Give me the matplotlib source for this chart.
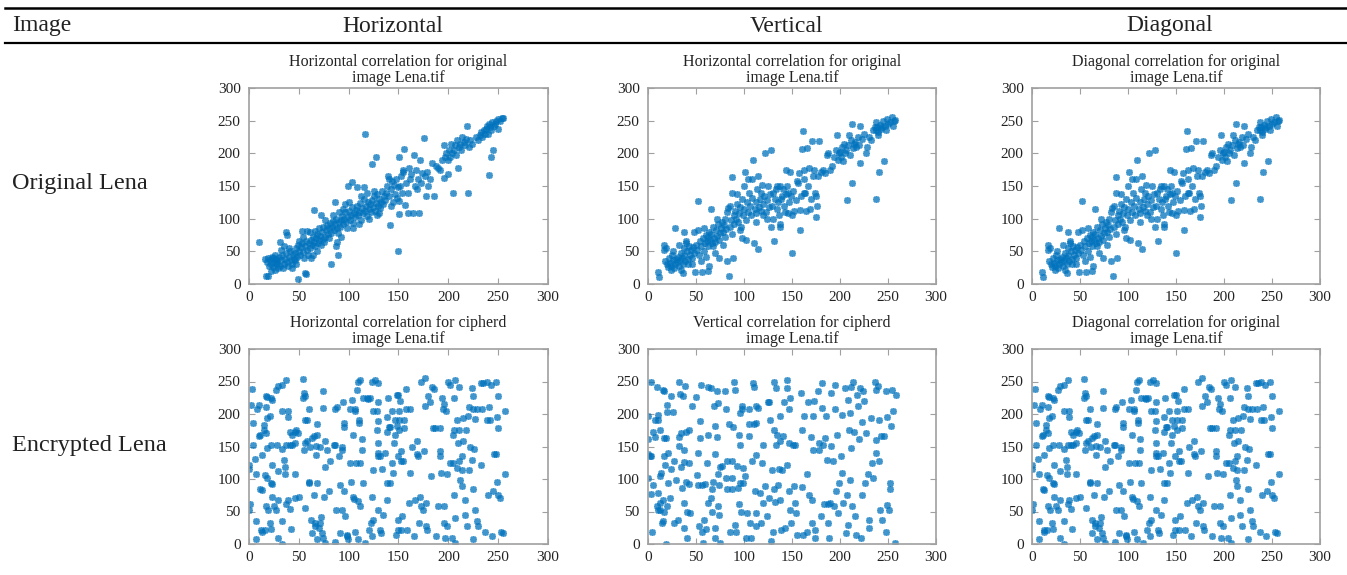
import matplotlib
matplotlib.use('Agg')
import matplotlib.pyplot as plt
import numpy as np
from matplotlib.lines import Line2D

plt.rcParams['font.family'] = ['Liberation Serif', 'DejaVu Serif']

# column / row headings of the table
col_header = ['Image', 'Horizontal', 'Vertical', 'Diagonal']
row_labels = ['Original Lena', 'Encrypted Lena']

panel_titles = [
    ['Horizontal correlation for original\nimage Lena.tif',
     'Horizontal correlation for original\nimage Lena.tif',
     'Diagonal correlation for original\nimage Lena.tif'],
    ['Horizontal correlation for cipherd\nimage Lena.tif',
     'Vertical correlation for cipherd\nimage Lena.tif',
     'Diagonal correlation for original\nimage Lena.tif'],
]

axis_ticks = [0, 50, 100, 150, 200, 250, 300]

# adjacent pixel pairs, original image, horizontal
orig_horiz = [
    (16, 38), (18, 33), (19, 40), (20, 28), (21, 36), (22, 31), (23, 42), (24, 26), (25, 34), (26, 22),
    (27, 38), (28, 30), (29, 25), (30, 41), (17, 12), (19, 13), (22, 20), (26, 45), (28, 35), (24, 40),
    (31, 28), (32, 36), (33, 44), (34, 24), (35, 31), (36, 39), (37, 47), (38, 33), (39, 27), (40, 42),
    (41, 50), (42, 36), (43, 30), (44, 46), (45, 39), (32, 52), (35, 58), (40, 55), (37, 79), (38, 75),
    (31, 64), (10, 64), (27, 32), (43, 24), (46, 48), (47, 55), (48, 42), (49, 60), (50, 51), (51, 45),
    (52, 57), (53, 63), (54, 49), (55, 40), (56, 58), (57, 66), (58, 52), (59, 45), (60, 62), (49, 8),
    (56, 17), (57, 16), (53, 81), (58, 81), (46, 36), (50, 66), (54, 72), (47, 30), (61, 55), (62, 68),
    (63, 60), (64, 72), (65, 64), (66, 58), (67, 70), (68, 76), (69, 62), (70, 67), (71, 74), (72, 60),
    (73, 80), (74, 69), (75, 64), (66, 81), (65, 114), (72, 105), (62, 40), (64, 45), (68, 50), (70, 86),
    (74, 88), (61, 80), (76, 72), (77, 82), (78, 90), (79, 76), (80, 85), (81, 94), (82, 78), (83, 88),
    (84, 96), (85, 83), (86, 92), (87, 100), (88, 86), (89, 78), (90, 95), (82, 31), (89, 45), (86, 125),
    (84, 105), (88, 65), (76, 98), (80, 70), (87, 58), (90, 110), (91, 88), (92, 98), (93, 104), (94, 92),
    (95, 100), (96, 110), (97, 95), (98, 86), (99, 103), (100, 112), (101, 98), (102, 106), (103, 118), (104, 94),
    (105, 108), (99, 150), (103, 156), (92, 72), (96, 122), (100, 125), (94, 115), (104, 85), (106, 102), (107, 114),
    (108, 120), (109, 105), (110, 110), (111, 124), (112, 98), (113, 116), (114, 108), (115, 130), (116, 112), (117, 120),
    (118, 104), (119, 126), (120, 115), (108, 148), (115, 148), (116, 229), (112, 135), (118, 140), (110, 92), (120, 100),
    (121, 122), (122, 110), (123, 128), (124, 118), (125, 134), (126, 112), (127, 124), (128, 138), (129, 120), (130, 130),
    (131, 116), (132, 126), (133, 142), (134, 122), (135, 135), (123, 184), (127, 194), (125, 142), (130, 108), (128, 106),
    (136, 128), (137, 140), (138, 150), (139, 166), (140, 135), (141, 90), (142, 145), (143, 158), (144, 125), (145, 152),
    (146, 138), (147, 160), (148, 132), (149, 148), (150, 51), (151, 127), (151, 107), (151, 195), (142, 120), (140, 160),
    (152, 150), (153, 165), (154, 140), (155, 172), (156, 206), (157, 121), (158, 155), (160, 109), (161, 178), (162, 160),
    (163, 168), (165, 108), (166, 198), (167, 150), (168, 175), (169, 145), (170, 160), (171, 108), (155, 175), (160, 140),
    (172, 190), (173, 155), (174, 170), (176, 223), (177, 165), (178, 134), (179, 172), (180, 150), (182, 160), (184, 185),
    (186, 134), (188, 180), (190, 178), (192, 175), (194, 190), (196, 163), (196, 213), (197, 195), (198, 200), (200, 190),
    (201, 205), (202, 195), (203, 215), (205, 139), (206, 205), (207, 212), (208, 198), (209, 220), (210, 178), (211, 210),
    (212, 215), (213, 205), (214, 225), (200, 168), (204, 200), (216, 218), (217, 212), (218, 222), (219, 242), (220, 139),
    (221, 210), (222, 220), (224, 215), (228, 225), (230, 220), (232, 228), (233, 232), (234, 225), (236, 235), (238, 238),
    (239, 242), (240, 230), (241, 167), (241, 245), (242, 240), (243, 194), (244, 248), (245, 205), (246, 242), (247, 245),
    (248, 250), (250, 238), (250, 252), (252, 250), (254, 254), (255, 254), (243, 236), (237, 230),
]

# original image, vertical pairs (the diagonal panel shows the same cloud)
orig_vert = [
    (10, 18), (11, 10), (17, 60), (17, 52), (18, 35), (20, 30), (21, 26), (22, 40), (23, 32), (24, 28),
    (25, 45), (26, 36), (27, 24), (28, 85), (28, 30), (29, 38), (30, 33), (19, 55), (26, 50), (24, 22),
    (31, 42), (32, 28), (33, 36), (34, 48), (35, 40), (36, 30), (37, 55), (38, 44), (39, 35), (40, 62),
    (41, 50), (42, 38), (43, 58), (44, 45), (45, 52), (32, 60), (36, 17), (38, 80), (40, 66), (34, 22),
    (42, 30), (46, 40), (47, 56), (48, 48), (49, 18), (50, 60), (51, 52), (52, 127), (53, 44), (54, 66),
    (55, 58), (56, 18), (57, 70), (58, 50), (59, 62), (60, 75), (48, 80), (52, 82), (55, 35), (58, 85),
    (46, 30), (60, 42), (61, 66), (62, 72), (63, 58), (64, 80), (65, 68), (66, 76), (67, 62), (68, 88),
    (69, 70), (70, 64), (71, 82), (72, 74), (73, 92), (74, 68), (75, 78), (64, 28), (66, 115), (70, 48),
    (72, 100), (62, 20), (68, 58), (74, 40), (76, 86), (77, 95), (78, 80), (79, 90), (80, 100), (81, 84),
    (82, 110), (83, 117), (84, 12), (85, 88), (86, 98), (87, 164), (88, 76), (89, 40), (90, 105), (78, 60),
    (82, 35), (80, 72), (88, 140), (85, 120), (90, 92), (91, 112), (92, 100), (93, 122), (94, 95), (95, 108),
    (96, 118), (97, 88), (98, 130), (99, 105), (100, 115), (101, 172), (102, 98), (103, 125), (104, 110), (105, 140),
    (93, 138), (98, 70), (100, 150), (104, 160), (96, 82), (102, 68), (106, 120), (107, 105), (108, 132), (109, 190),
    (110, 62), (111, 115), (112, 125), (113, 108), (114, 145), (115, 54), (116, 118), (117, 130), (118, 112), (119, 152),
    (120, 122), (108, 160), (112, 95), (115, 165), (118, 140), (120, 105), (121, 135), (122, 201), (123, 110), (124, 128),
    (125, 150), (126, 118), (127, 138), (128, 205), (129, 120), (130, 100), (131, 66), (132, 130), (133, 145), (134, 115),
    (135, 125), (124, 100), (128, 88), (134, 150), (130, 140), (136, 105), (137, 150), (138, 92), (139, 130), (140, 134),
    (141, 145), (142, 120), (143, 110), (144, 138), (145, 150), (146, 140), (147, 125), (148, 172), (149, 135), (150, 48),
    (150, 105), (138, 88), (146, 108), (144, 175), (151, 142), (152, 112), (154, 128), (155, 158), (156, 155), (157, 170),
    (158, 83), (159, 135), (160, 206), (161, 234), (162, 175), (163, 160), (164, 140), (165, 112), (166, 208), (167, 150),
    (168, 178), (169, 115), (170, 130), (158, 113), (162, 140), (171, 219), (172, 165), (173, 175), (174, 140), (175, 103),
    (176, 120), (177, 165), (178, 219), (180, 172), (182, 175), (184, 170), (186, 198), (188, 200), (190, 175), (175, 135),
    (192, 180), (194, 195), (196, 205), (197, 228), (198, 190), (199, 200), (200, 202), (201, 195), (202, 210), (203, 188),
    (204, 215), (205, 200), (206, 205), (207, 129), (208, 213), (209, 228), (210, 198), (211, 220), (212, 245), (213, 154),
    (214, 208), (215, 215), (216, 218), (217, 210), (219, 225), (220, 213), (221, 185), (221, 242), (223, 222), (225, 230),
    (227, 200), (228, 210), (230, 225), (232, 220), (234, 235), (236, 240), (237, 130), (237, 248), (238, 236), (239, 240),
    (240, 232), (241, 172), (242, 244), (243, 238), (244, 240), (245, 250), (246, 188), (247, 242), (248, 236), (249, 253),
    (250, 245), (252, 248), (254, 255), (255, 242), (256, 250), (257, 251), (240, 228),
]

# encrypted image, horizontal pairs (diagonal panel shows the same cloud)
enc_horiz = [
    (0, 121), (0, 115), (1, 62), (0, 53), (3, 239), (2, 214), (4, 186), (4, 153), (6, 131), (7, 108),
    (7, 36), (7, 7), (8, 207), (10, 214), (11, 167), (10, 166), (11, 85), (13, 83), (15, 183), (15, 176),
    (13, 137), (16, 106), (12, 22), (13, 18), (16, 22), (17, 227), (18, 226), (17, 211), (18, 194), (21, 197),
    (17, 171), (18, 148), (18, 102), (17, 58), (19, 53), (21, 32), (22, 23), (22, 225), (23, 221), (22, 153),
    (23, 122), (22, 94), (23, 93), (25, 58), (23, 73), (27, 237), (29, 243), (28, 153), (29, 113), (29, 67),
    (27, 53), (29, 10), (33, 244), (33, 204), (33, 146), (35, 129), (36, 107), (36, 119), (33, 36), (33, 0),
    (37, 252), (39, 204), (39, 195), (37, 153), (39, 67), (37, 61), (41, 54), (41, 173), (41, 153), (43, 168),
    (43, 153), (42, 23), (46, 172), (47, 176), (46, 107), (46, 71), (46, 155), (49, 171), (50, 73), (54, 254),
    (54, 225), (55, 232), (56, 228), (56, 191), (58, 191), (55, 145), (56, 155), (58, 158), (56, 55), (60, 207),
    (60, 96), (60, 94), (61, 150), (62, 37), (63, 163), (65, 166), (63, 17), (65, 75), (66, 33), (66, 27),
    (68, 168), (68, 184), (67, 151), (67, 137), (68, 94), (68, 7), (71, 32), (70, 25), (71, 149), (72, 42),
    (73, 17), (74, 10), (74, 235), (74, 210), (75, 73), (76, 118), (76, 159), (76, 2), (78, 145), (80, 82),
    (81, 127), (85, 153), (86, 207), (86, 153), (86, 3), (87, 53), (88, 211), (90, 135), (91, 91), (91, 17),
    (93, 150), (93, 145), (94, 219), (95, 186), (95, 180), (93, 53), (95, 81), (96, 43), (98, 14), (98, 12),
    (99, 7), (101, 207), (101, 125), (102, 95), (103, 222), (104, 167), (104, 72), (105, 69), (106, 207), (106, 204),
    (106, 18), (107, 125), (108, 237), (109, 66), (109, 7), (110, 191), (110, 186), (109, 250), (111, 253), (111, 58),
    (111, 124), (113, 162), (113, 144), (114, 94), (114, 225), (116, 2), (118, 225), (119, 223), (120, 22), (121, 225),
    (122, 32), (123, 249), (123, 12), (124, 205), (124, 114), (123, 73), (124, 37), (126, 252), (128, 204), (129, 248),
    (129, 219), (129, 190), (128, 176), (129, 155), (129, 140), (129, 135), (131, 135), (133, 115), (131, 22), (132, 17),
    (129, 53), (134, 45), (136, 140), (138, 172), (138, 196), (138, 68), (138, 94), (139, 225), (140, 180), (141, 180),
    (141, 94), (143, 124), (143, 204), (144, 109), (145, 155), (146, 191), (146, 168), (147, 14), (148, 230), (148, 181),
    (149, 37), (149, 136), (149, 22), (150, 230), (151, 204), (151, 191), (151, 176), (152, 220), (153, 127), (153, 21),
    (153, 143), (154, 43), (155, 127), (156, 191), (156, 178), (158, 207), (158, 238), (159, 21), (161, 63), (162, 109),
    (162, 207), (164, 149), (166, 12), (167, 68), (169, 158), (169, 139), (170, 135), (171, 32), (172, 73), (173, 58),
    (173, 250), (175, 53), (176, 143), (177, 255), (177, 212), (178, 63), (178, 27), (179, 22), (180, 228), (182, 219),
    (183, 104), (184, 242), (186, 238), (185, 178), (187, 178), (188, 12), (190, 59), (192, 136), (192, 178), (192, 143),
    (193, 109), (194, 225), (195, 208), (196, 216), (196, 32), (196, 58), (197, 9), (198, 204), (199, 107), (199, 28),
    (200, 249), (202, 125), (202, 245), (204, 9), (205, 167), (205, 125), (206, 225), (206, 76), (207, 253), (206, 175),
    (207, 40), (207, 2), (209, 117), (209, 191), (210, 155), (211, 242), (211, 127), (211, 175), (212, 99), (214, 135),
    (214, 89), (214, 114), (215, 194), (215, 158), (217, 68), (217, 44), (218, 175), (219, 27), (220, 197), (221, 211),
    (221, 114), (222, 150), (224, 240), (224, 129), (225, 207), (225, 84), (225, 8), (225, 228), (226, 146), (227, 192),
    (227, 53), (229, 207), (229, 36), (230, 27), (233, 248), (234, 207), (235, 248), (233, 122), (237, 18), (239, 250),
    (239, 191), (240, 76), (241, 211), (242, 191), (243, 245), (244, 12), (245, 81), (246, 139), (248, 249), (249, 196),
    (248, 139), (249, 96), (250, 178), (250, 228), (250, 76), (252, 71), (253, 18), (255, 17), (257, 204), (257, 107),
]

# encrypted image, vertical pairs
enc_vert = [
    (0, 197), (0, 161), (0, 139), (2, 136), (3, 135), (0, 102), (3, 250), (3, 77), (4, 18), (5, 91),
    (5, 173), (7, 164), (7, 191), (9, 242), (10, 191), (10, 199), (9, 58), (10, 53), (10, 78), (12, 105),
    (13, 176), (12, 63), (13, 53), (14, 109), (15, 32), (16, 36), (16, 67), (17, 50), (16, 237), (17, 235),
    (17, 163), (17, 135), (18, 122), (19, 0), (19, 163), (20, 58), (20, 214), (20, 203), (21, 140), (21, 94),
    (23, 71), (24, 228), (24, 115), (26, 203), (27, 127), (27, 32), (29, 99), (31, 37), (32, 250), (32, 165),
    (32, 151), (33, 231), (34, 171), (34, 119), (35, 86), (36, 228), (37, 144), (38, 126), (38, 63), (38, 25),
    (39, 243), (40, 172), (40, 96), (41, 50), (41, 9), (43, 176), (43, 125), (43, 93), (44, 47), (46, 212),
    (50, 226), (51, 106), (52, 140), (52, 91), (53, 28), (54, 189), (54, 163), (55, 244), (56, 91), (56, 19),
    (57, 2), (58, 37), (59, 93), (60, 23), (61, 125), (62, 168), (63, 63), (63, 242), (66, 240), (66, 71),
    (67, 84), (67, 49), (68, 96), (69, 212), (70, 182), (70, 139), (70, 25), (70, 9), (72, 165), (72, 235),
    (73, 217), (73, 107), (73, 58), (74, 45), (74, 91), (75, 118), (75, 2), (77, 120), (80, 236), (81, 207),
    (81, 102), (82, 84), (82, 127), (84, 184), (85, 19), (87, 127), (87, 102), (87, 84), (89, 180), (90, 250),
    (91, 237), (91, 30), (92, 19), (93, 120), (94, 86), (95, 168), (95, 61), (96, 201), (96, 153), (96, 94),
    (97, 50), (98, 212), (98, 207), (99, 94), (99, 117), (101, 104), (102, 9), (103, 48), (105, 207), (105, 184),
    (105, 166), (106, 32), (107, 9), (108, 127), (109, 247), (110, 242), (110, 184), (111, 81), (112, 48), (112, 27),
    (112, 212), (113, 137), (113, 186), (115, 209), (117, 78), (118, 32), (119, 125), (120, 153), (120, 63), (122, 90),
    (124, 43), (125, 218), (126, 71), (126, 219), (127, 191), (128, 4), (129, 114), (130, 19), (131, 249), (131, 176),
    (131, 84), (132, 64), (133, 153), (133, 240), (134, 168), (135, 91), (136, 115), (138, 197), (138, 158), (138, 68),
    (139, 22), (140, 114), (141, 166), (142, 218), (143, 25), (145, 240), (145, 122), (145, 253), (147, 207), (147, 81),
    (147, 155), (148, 225), (148, 53), (149, 32), (151, 153), (152, 89), (153, 63), (153, 153), (154, 48), (155, 14),
    (159, 232), (160, 87), (160, 175), (161, 14), (162, 197), (166, 107), (166, 18), (167, 218), (168, 76), (170, 165),
    (171, 68), (171, 32), (172, 197), (172, 144), (173, 220), (174, 9), (174, 22), (177, 236), (178, 155), (178, 144),
    (180, 43), (181, 248), (181, 209), (182, 153), (183, 61), (184, 163), (185, 197), (186, 130), (188, 61), (188, 32),
    (189, 9), (190, 63), (191, 232), (191, 151), (193, 127), (194, 58), (195, 207), (195, 244), (196, 81), (197, 168),
    (198, 47), (199, 94), (201, 135), (202, 109), (202, 199), (203, 63), (205, 240), (206, 17), (207, 75), (208, 222),
    (208, 30), (209, 176), (210, 99), (210, 201), (211, 242), (211, 148), (212, 58), (214, 250), (215, 173), (216, 43),
    (217, 14), (218, 230), (219, 212), (220, 161), (221, 240), (222, 9), (223, 187), (223, 76), (224, 235), (225, 220),
    (226, 94), (227, 171), (229, 107), (230, 25), (230, 37), (232, 194), (233, 125), (234, 102), (236, 250), (237, 237),
    (237, 160), (237, 140), (240, 243), (241, 191), (241, 127), (242, 53), (243, 166), (244, 37), (246, 166), (248, 235),
    (248, 19), (249, 196), (249, 60), (251, 53), (252, 94), (252, 84), (253, 181), (254, 237), (255, 204), (257, 2),
    (258, 230),
]

panel_data = [
    [orig_horiz, orig_vert, orig_vert],
    [enc_horiz, enc_vert, enc_horiz],
]

W, H = 1347, 575
fig = plt.figure(figsize=(W / 100, H / 100), dpi=100)

# axes boxes in pixels (left, width) per column and (top, bottom) per row
col_px = [(249, 299), (648, 288), (1032, 288)]
row_px = [(88, 284), (349, 544)]

blue = '#0072BD'
grey = '#a0a0a0'

for r in range(2):
    top, bot = row_px[r]
    for c in range(3):
        left, width = col_px[c]
        ax = fig.add_axes([left / W, 1 - bot / H, width / W, (bot - top) / H])
        pts = np.array(panel_data[r][c])
        ax.plot(pts[:, 0], pts[:, 1], linestyle='none', marker=(8, 2, 0),
                ms=5, mew=1.2, color=blue, alpha=0.75)
        ax.set_xlim(0, 300)
        ax.set_ylim(0, 300)
        ax.set_xticks(axis_ticks)
        ax.set_yticks(axis_ticks)
        ax.tick_params(direction='in', length=4, width=0.8, color=grey,
                       top=True, right=True, labelsize=11, labelcolor='#222222')
        ax.tick_params(axis='y', pad=6)
        ax.tick_params(axis='x', pad=5)
        for s in ax.spines.values():
            s.set_color(grey)
            s.set_linewidth(1.2)
        ax.set_title(panel_titles[r][c], fontsize=11.5, pad=4, linespacing=1.05, color='#222222')

# table rules and headings
fig.add_artist(Line2D([5 / W, 1], [1 - 8 / H, 1 - 8 / H], color='black', lw=1.8))
fig.add_artist(Line2D([5 / W, 1], [1 - 43 / H, 1 - 43 / H], color='black', lw=1.6))

fig.text(12 / W, 1 - 26 / H, col_header[0], fontsize=17, va='center', ha='left', color='#222222')
for c in range(3):
    left, width = col_px[c]
    fig.text((left + width / 2 - 6) / W, 1 - 26 / H, col_header[c + 1], fontsize=17,
             va='center', ha='center', color='#222222')

fig.text(12 / W, 1 - 183 / H, row_labels[0], fontsize=17.5, va='center', ha='left', color='#222222')
fig.text(12 / W, 1 - 445 / H, row_labels[1], fontsize=17.5, va='center', ha='left', color='#222222')

fig.savefig('out.png', dpi=100)
